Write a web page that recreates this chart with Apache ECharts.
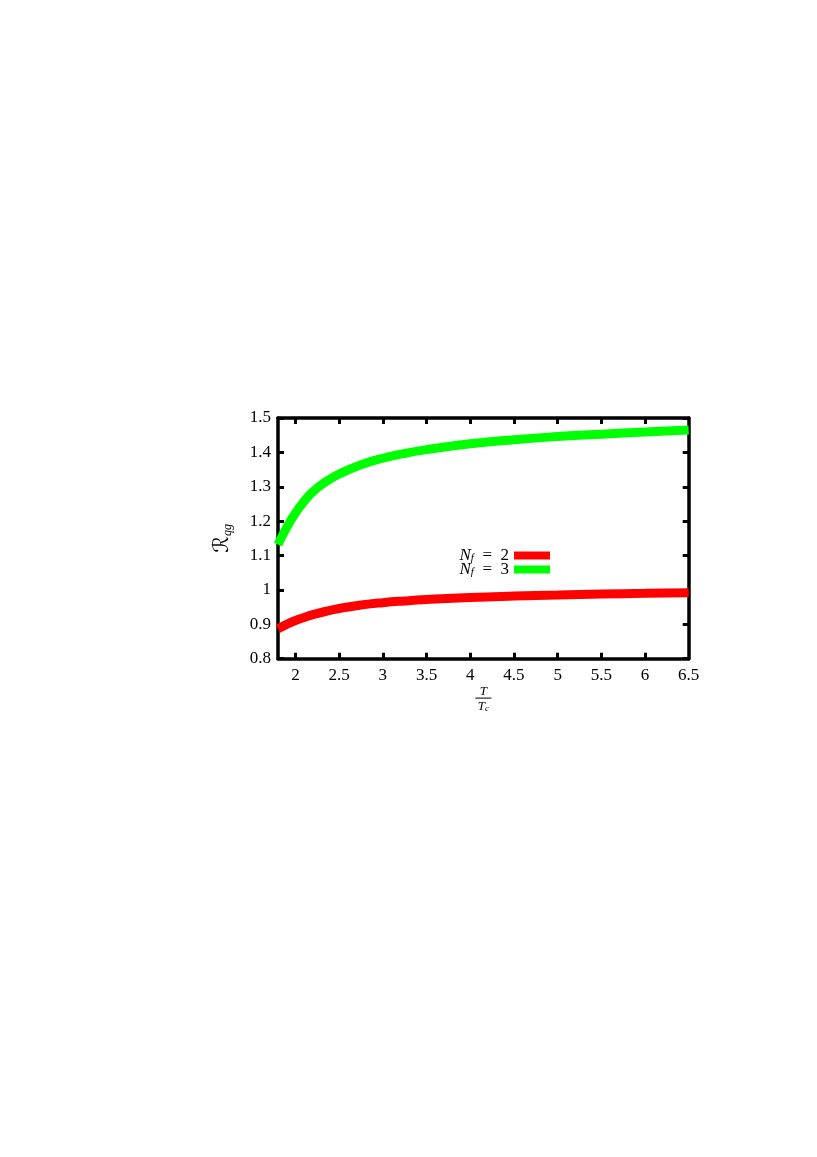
<!DOCTYPE html>
<html>
<head>
<meta charset="utf-8">
<script src="https://cdn.jsdelivr.net/npm/echarts@6/dist/echarts.min.js"></script>
<style>
html,body{margin:0;padding:0;background:#fff;}
#c{width:817px;height:1157px;}
</style>
</head>
<body>
<div id="c"></div>
<script>
// T/Tc values
const xValues = [1.8, 1.9, 2.0, 2.1, 2.2, 2.35, 2.5, 2.75, 3.0, 3.25, 3.5, 4.0, 4.5, 5.0, 5.5, 6.0, 6.5];
// N_f = 2 (red)
const nf2 = [0.887, 0.900, 0.911, 0.920, 0.928, 0.938, 0.946, 0.956, 0.963, 0.968, 0.972, 0.978, 0.982, 0.985, 0.988, 0.990, 0.992];
// N_f = 3 (green)
const nf3 = [1.132, 1.182, 1.224, 1.258, 1.286, 1.315, 1.337, 1.364, 1.383, 1.397, 1.408, 1.425, 1.437, 1.446, 1.453, 1.459, 1.465];
const xTickLabels = [2, 2.5, 3, 3.5, 4, 4.5, 5, 5.5, 6, 6.5];
const xTicks = [2, 2.5, 3, 3.5, 4, 4.5, 5, 5.5, 6];
const seriesNames = ['N_f = 2', 'N_f = 3'];

const serif = 'Liberation Serif, DejaVu Serif, serif';
const chart = echarts.init(document.getElementById('c'), null, {renderer: 'canvas'});

const lineStyleAxis = {color: '#000', width: 3.5};
const tickStyle = {show: true, inside: true, length: 6, lineStyle: {color: '#000', width: 3}};

chart.setOption({
  animation: false,
  backgroundColor: '#fff',
  grid: {left: 278, top: 418, right: 128.3, bottom: 498.3, containLabel: false},
  legend: {
    orient: 'vertical',
    align: 'right',
    right: 267,
    top: 547,
    padding: 0,
    itemWidth: 36,
    itemHeight: 8,
    itemGap: -3,
    icon: 'rect',
    data: seriesNames,
    formatter: function (name) {
      const n = name.split('= ')[1];
      return '{i|N}{s|f}{t|\u2002=\u2002' + n + '}';
    },
    textStyle: {
      fontFamily: serif, fontSize: 17, lineHeight: 14, color: '#000',
      rich: {
        i: {fontFamily: serif, fontStyle: 'italic', fontSize: 17, lineHeight: 14, color: '#000'},
        s: {fontFamily: serif, fontStyle: 'italic', fontSize: 11, lineHeight: 14, color: '#000', padding: [6, 0, 0, 0]},
        t: {fontFamily: serif, fontSize: 17, lineHeight: 14, color: '#000'}
      }
    }
  },
  xAxis: [
    {
      type: 'value', min: 1.8, max: 6.5, position: 'bottom',
      axisLine: {show: true, onZero: false, lineStyle: lineStyleAxis},
      axisTick: Object.assign({customValues: xTicks}, tickStyle),
      axisLabel: {customValues: xTickLabels, margin: 8, fontFamily: serif, fontSize: 17, color: '#000',
        formatter: v => String(v)},
      splitLine: {show: false},
      name: '{n|T}\n{l|}\n{d|T}{s|c}',
      nameLocation: 'middle',
      nameGap: 23,
      nameTextStyle: {
        verticalAlign: 'top',
        rich: {
          n: {fontFamily: serif, fontStyle: 'italic', fontSize: 13, lineHeight: 10, align: 'center', color: '#000'},
          l: {width: 16, height: 1, lineHeight: 4, backgroundColor: '#000', align: 'center'},
          d: {fontFamily: serif, fontStyle: 'italic', fontSize: 13, lineHeight: 12, color: '#000'},
          s: {fontFamily: serif, fontStyle: 'italic', fontSize: 9, lineHeight: 12, padding: [5, 0, 0, 0], color: '#000'}
        }
      }
    },
    {
      type: 'value', min: 1.8, max: 6.5, position: 'top',
      axisLine: {show: true, onZero: false, lineStyle: lineStyleAxis},
      axisTick: Object.assign({customValues: xTicks}, tickStyle),
      axisLabel: {show: false},
      splitLine: {show: false}
    }
  ],
  yAxis: [
    {
      type: 'value', min: 0.8, max: 1.5, interval: 0.1, position: 'left',
      axisLine: {show: true, onZero: false, lineStyle: lineStyleAxis},
      axisTick: tickStyle,
      axisLabel: {margin: 7, fontFamily: serif, fontSize: 17, color: '#000',
        formatter: v => String(Math.round(v * 10) / 10)},
      splitLine: {show: false},
      name: '{r|ℛ}{s|qg}',
      nameLocation: 'middle',
      nameRotate: 90,
      nameGap: 44,
      nameTextStyle: {
        rich: {
          r: {fontFamily: 'DejaVu Serif, DejaVu Sans, serif', fontSize: 21, lineHeight: 22, color: '#000'},
          s: {fontFamily: serif, fontStyle: 'italic', fontSize: 12, lineHeight: 22, padding: [9, 0, 0, 0], color: '#000'}
        }
      }
    },
    {
      type: 'value', min: 0.8, max: 1.5, interval: 0.1, position: 'right',
      axisLine: {show: true, onZero: false, lineStyle: lineStyleAxis},
      axisTick: tickStyle,
      axisLabel: {show: false},
      splitLine: {show: false}
    }
  ],
  series: [
    {
      name: seriesNames[0], type: 'line', smooth: true, showSymbol: false,
      xAxisIndex: 0, yAxisIndex: 0,
      lineStyle: {color: '#ff0000', width: 9, cap: 'butt'},
      itemStyle: {color: '#ff0000'},
      data: xValues.map((x, i) => [x, nf2[i]])
    },
    {
      name: seriesNames[1], type: 'line', smooth: true, showSymbol: false,
      xAxisIndex: 0, yAxisIndex: 0,
      lineStyle: {color: '#00ff00', width: 9, cap: 'butt'},
      itemStyle: {color: '#00ff00'},
      data: xValues.map((x, i) => [x, nf3[i]])
    }
  ]
});
</script>
</body>
</html>
